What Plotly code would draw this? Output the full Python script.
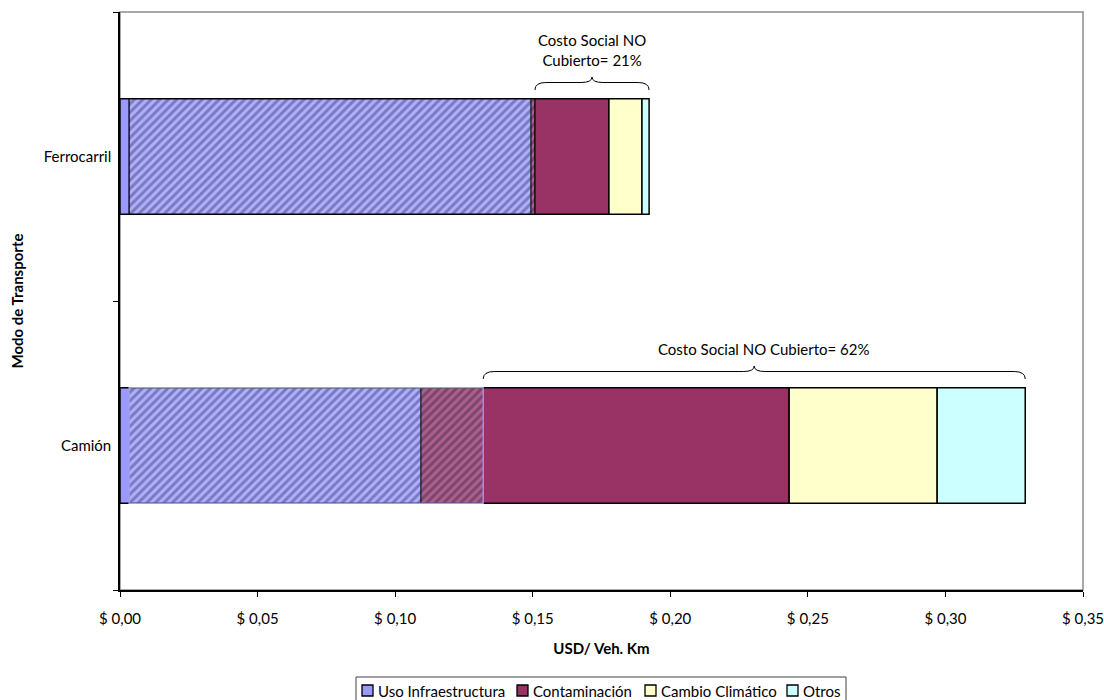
import plotly.graph_objects as go

# Transport modes (bottom to top) and cost components in USD per vehicle-km
modos = ["Camión", "Ferrocarril"]
componentes = ["Uso Infraestructura", "Contaminación", "Cambio Climático", "Otros"]
uso_infraestructura = [0.1094, 0.1494]
contaminacion = [0.1338, 0.0283]
cambio_climatico = [0.0538, 0.0120]
otros = [0.0320, 0.0026]

# Portion of the social cost that is covered (hatched band)
cubierto_inicio = [0.0033, 0.0033]
cubierto_fin = [0.1320, 0.1508]

# Brace labels for the uncovered share
etiquetas_no_cubierto = ["Costo Social NO Cubierto= 62%", "Costo Social NO<br>Cubierto= 21%"]

tick_vals = [0.00, 0.05, 0.10, 0.15, 0.20, 0.25, 0.30, 0.35]
tick_text = ["$ " + f"{v:.2f}".replace(".", ",") for v in tick_vals]

colores = ["#9999FF", "#993366", "#FFFFCC", "#CCFFFF"]
FONT = "Lato, Carlito, Calibri, sans-serif"
FS = 15

# Page geometry (pixels) used to place the legend box below the axis
W, H = 1104, 700
ML, MR, MT, MB = 120, 21, 12, 110
PW, PH = W - ML - MR, H - MT - MB


def px_x(px):
    return (px - ML) / PW


def px_y(py):
    return (H - MB - py) / PH


series = [uso_infraestructura, contaminacion, cambio_climatico, otros]
fig = go.Figure()

base = [0.0] * len(modos)
for nombre, vals, color in zip(componentes, series, colores):
    fig.add_trace(go.Bar(
        y=modos, x=vals, base=list(base), orientation="h", name=nombre,
        width=0.4, marker=dict(color=color, line=dict(color="black", width=1.5)),
        hoverinfo="skip", showlegend=False,
    ))
    base = [b + v for b, v in zip(base, vals)]
totales = base

# Hatched overlay for the covered portion
fig.add_trace(go.Bar(
    y=modos, x=[f - i for i, f in zip(cubierto_inicio, cubierto_fin)], base=cubierto_inicio,
    orientation="h", width=0.4, showlegend=False, hoverinfo="skip",
    marker=dict(
        color="rgba(255,255,255,0.22)",
        line=dict(color=["#A0A0E8", "black"], width=1.3),
        pattern=dict(shape="/", fgcolor="rgba(20,20,70,0.7)", size=6, solidity=0.5,
                     fillmode="overlay"),
    ),
))


def llave(x0, x1, yb, ya, yp, q):
    xm = (x0 + x1) / 2
    return (f"M {x0},{yb} Q {x0},{ya} {x0 + q},{ya} L {xm - q},{ya} "
            f"Q {xm},{ya} {xm},{yp} Q {xm},{ya} {xm + q},{ya} "
            f"L {x1 - q},{ya} Q {x1},{ya} {x1},{yb}")


for i, modo in enumerate(modos):
    top = i + 0.2
    fig.add_shape(type="path", xref="x", yref="y",
                  path=llave(cubierto_fin[i], totales[i], top + 0.03, top + 0.056, top + 0.075, 0.004),
                  line=dict(color="black", width=1))

fig.add_annotation(x=(cubierto_fin[0] + totales[0]) / 2, y=0.334, xref="x", yref="y",
                   text=etiquetas_no_cubierto[0], showarrow=False, xshift=10,
                   font=dict(family=FONT, size=FS, color="black"))
fig.add_annotation(x=(cubierto_fin[1] + totales[1]) / 2, y=1.368, xref="x", yref="y",
                   text=etiquetas_no_cubierto[1], showarrow=False,
                   font=dict(family=FONT, size=FS, color="black"))

# Grey frame around plot area
fig.add_shape(type="rect", xref="paper", yref="paper", x0=0, x1=1, y0=0, y1=1,
              line=dict(color="#8C8C8C", width=1.5), layer="below")

# Legend: bordered box with a swatch and label per component
fig.add_shape(type="rect", xref="paper", yref="paper",
              x0=px_x(356), x1=px_x(846), y0=px_y(708), y1=px_y(677),
              line=dict(color="#404040", width=1), fillcolor="white")
legend_x = [362, 517, 645, 787]
for nombre, color, lx in zip(componentes, colores, legend_x):
    fig.add_shape(type="rect", xref="paper", yref="paper",
                  x0=px_x(lx), x1=px_x(lx + 11), y0=px_y(696), y1=px_y(685),
                  line=dict(color="black", width=1.3), fillcolor=color)
    fig.add_annotation(x=px_x(lx + 14), y=px_y(690.5), xref="paper", yref="paper",
                       xanchor="left", yanchor="middle", text=nombre, showarrow=False,
                       font=dict(family=FONT, size=FS, color="black"))

fig.update_layout(
    width=W, height=H,
    margin=dict(l=ML, r=MR, t=MT, b=MB, autoexpand=False),
    barmode="overlay",
    showlegend=False,
    plot_bgcolor="white", paper_bgcolor="white",
    font=dict(family=FONT, size=FS, color="black"),
    xaxis=dict(range=[0, 0.35], tickvals=tick_vals, ticktext=tick_text,
               showgrid=False, zeroline=False, showline=True, linecolor="black", linewidth=1.5,
               ticks="outside", ticklen=5, tickcolor="black", ticklabelstandoff=9,
               ticklabeloverflow="allow", automargin=False,
               title=dict(text="<b>USD/ Veh. Km</b>", standoff=18, font=dict(size=FS))),
    yaxis=dict(type="category", categoryorder="array", categoryarray=modos, range=[-0.5, 1.5],
               showgrid=False, zeroline=False, showline=True, linecolor="black", linewidth=1.5,
               ticks="outside", ticklen=5, tickcolor="black", tickson="boundaries",
               ticklabelstandoff=4, automargin=False,
               title=dict(text="<b>Modo de Transporte</b>", standoff=16, font=dict(size=FS))),
)

fig.write_html("out.html")
